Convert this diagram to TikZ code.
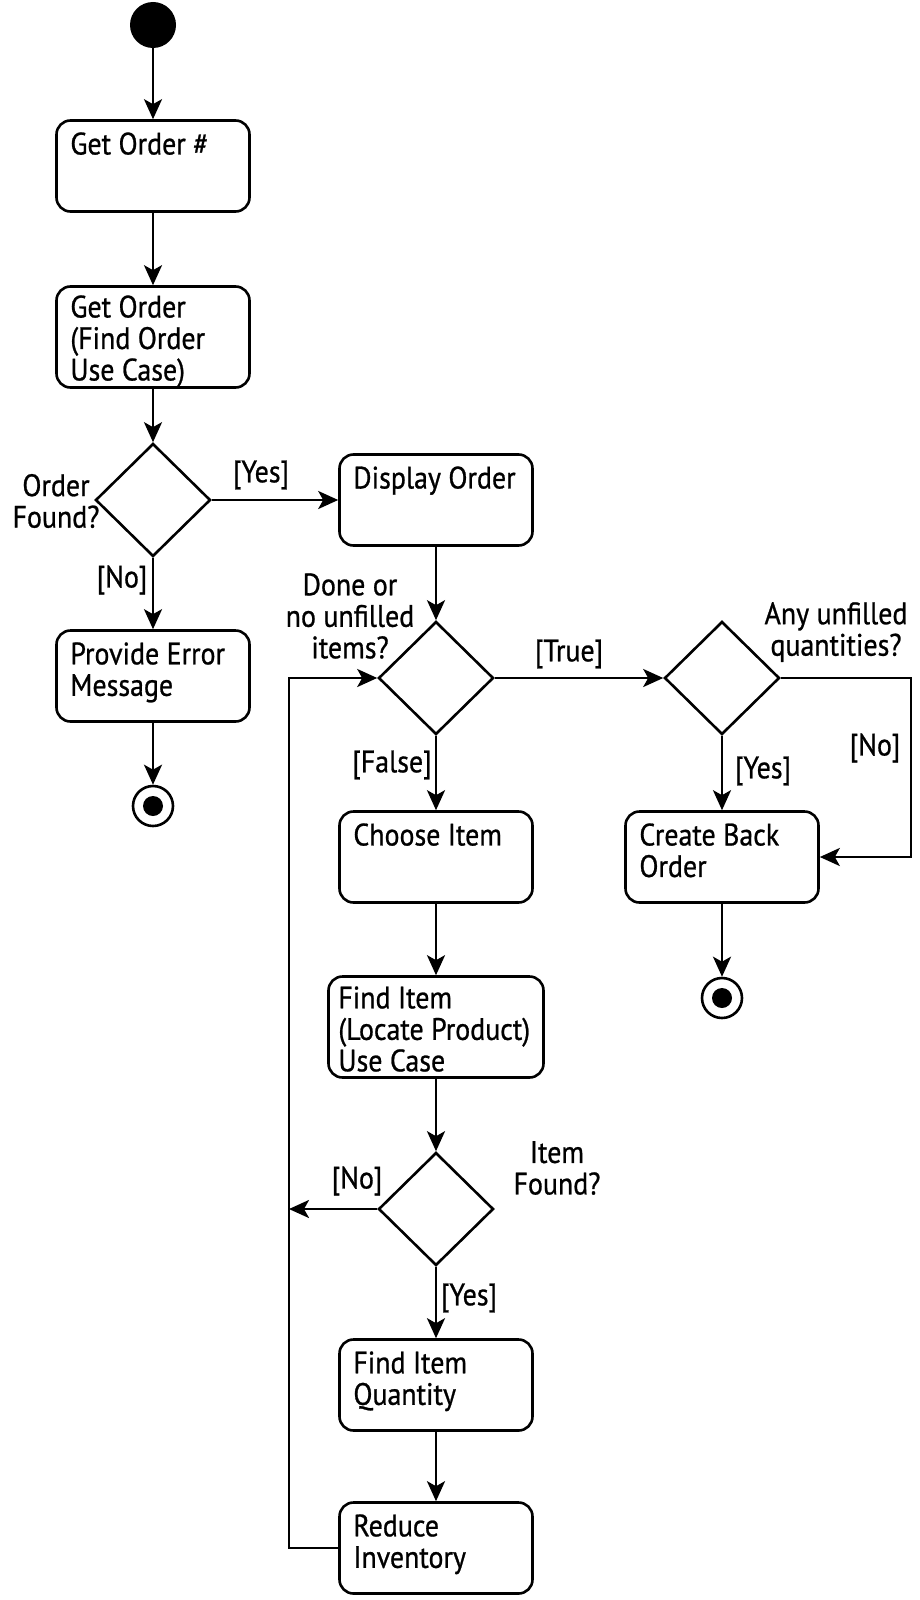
\documentclass[tikz,border=0pt]{standalone}
\usepackage{fontspec}
\setmainfont{PT Sans}[FakeStretch=0.9, FakeBold=0.8]
\usetikzlibrary{shapes.geometric,arrows.meta}

\begin{document}
\begin{tikzpicture}[x=1pt, y=-1pt, font=\fontsize{31}{31.5}\selectfont,
  act/.style={draw, line width=2.6pt, rounded corners=14pt, minimum width=193pt, minimum height=91pt, inner sep=0pt},
  acttext/.style={anchor=north west, inner sep=0pt, align=left, xshift=15pt, yshift=-13pt},
  choice/.style={draw, diamond, line width=2.6pt, minimum width=115pt, minimum height=113pt, inner sep=0pt},
  startdot/.style={circle, fill, minimum size=46pt, inner sep=0pt},
  enddot/.style={circle, draw, line width=2.6pt, minimum size=40pt, inner sep=0pt,
    path picture={\fill (path picture bounding box.center) circle (10pt);}},
  guard/.style={inner sep=0pt, align=center},
  flow/.style={line width=2.6pt, -{Stealth[length=20pt, width=18pt, inset=5pt]}}]
\useasboundingbox (0,0) rectangle (919,1600);

% left column
\node[startdot] (start) at (153,25) {};
\node[act, label={[acttext]north west:Get Order \#}] (getnum) at (153,166) {};
\node[act, minimum height=101pt, label={[acttext, yshift=3pt]north west:Get Order\\(Find Order\\Use Case)}] (getord) at (153,337) {};
\node[choice] (found) at (153,500) {};
\node[guard] (lfound) at (56,501) {Order\\Found?};
\node[act, label={[acttext]north west:Provide Error\\Message}] (error) at (153,676) {};
\node[enddot] (end1) at (153,806) {};

% middle column
\node[act, label={[acttext]north west:Display Order}] (display) at (436,500) {};
\node[choice] (done) at (436,678) {};
\node[guard] (ldone) at (350,616) {Done or\\no unfilled\\items?};
\node[act, label={[acttext]north west:Choose Item}] (choose) at (436,857) {};
\node[act, minimum width=215pt, minimum height=101pt, label={[acttext, xshift=-4pt, yshift=2pt]north west:Find Item\\(Locate Product)\\Use Case}] (finditem) at (436,1027) {};
\node[choice] (itemfound) at (436,1209) {};
\node[guard] (litem) at (557,1168) {Item\\Found?};
\node[act, label={[acttext]north west:Find Item\\Quantity}] (qty) at (436,1385) {};
\node[act, label={[acttext]north west:Reduce\\Inventory}] (reduce) at (436,1548) {};

% right column
\node[choice] (anyq) at (722,678) {};
\node[guard] (lany) at (836,632) {Any unfilled\\quantities?};
\node[act, label={[acttext]north west:Create Back\\Order}] (back) at (722,857) {};
\node[enddot] (end2) at (722,998) {};

\coordinate (loop) at (289,1548);
\coordinate (rside) at (911,678);

% guards
\node[guard] (gyes1) at (261,475) {[Yes]};
\node[guard] (gno1) at (122,580) {[No]};
\node[guard] (gtrue) at (569,654) {[True]};
\node[guard] (gfalse) at (392,765) {[False]};
\node[guard] (gyes2) at (763,771) {[Yes]};
\node[guard] (gno2) at (875,748) {[No]};
\node[guard] (gno3) at (357,1181) {[No]};
\node[guard] (gyes3) at (469,1298) {[Yes]};

\draw[flow] (start) -- (getnum);
\draw[flow] (getnum) -- (getord);
\draw[flow] (getord) -- (found);
\draw[flow] (found.east) -- (display.west);
\draw[flow] (found.south) -- (error);
\draw[flow] (error) -- (end1);
\draw[flow] (display) -- (done.north);
\draw[flow] (done.east) -- (anyq.west);
\draw[flow] (done.south) -- (choose);
\draw[flow] (anyq.south) -- (back);
\draw[flow] (anyq.east) -- (rside) |- (back.east);
\draw[flow] (back) -- (end2);
\draw[flow] (choose) -- (finditem);
\draw[flow] (finditem) -- (itemfound.north);
\draw[flow] (itemfound.south) -- (qty);
\draw[flow] (qty) -- (reduce);
\draw[flow] (reduce.west) -- (loop) |- (done.west);
\draw[flow] (itemfound.west) -- (itemfound.west -| loop);
\end{tikzpicture}
\end{document}
